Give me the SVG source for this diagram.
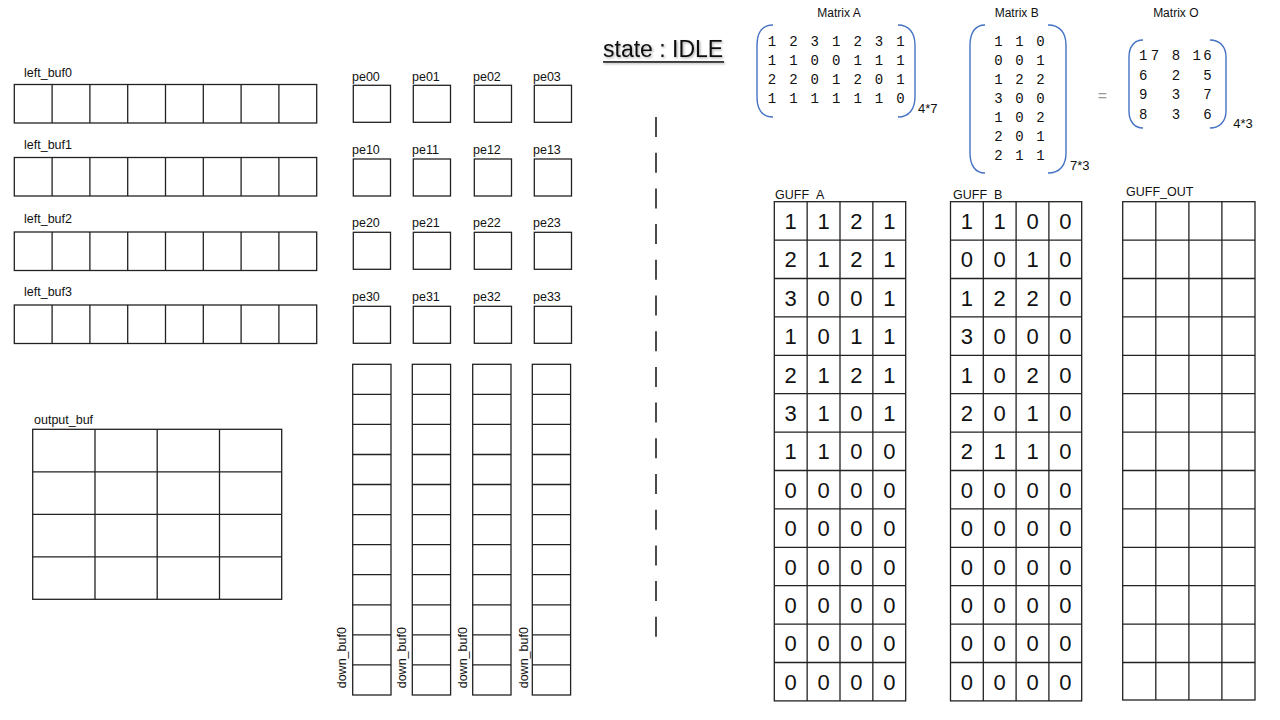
<svg xmlns="http://www.w3.org/2000/svg" width="1280" height="720" viewBox="0 0 1280 720">
<style>
.g{fill:none;stroke:#222;stroke-width:1.3}
.lb{font-family:"Liberation Sans",Arial,sans-serif;font-size:12.5px;fill:#111}
.dg{font-family:"Liberation Sans",Arial,sans-serif;font-size:22px;fill:#111;text-anchor:middle}
.md{font-family:"Liberation Mono","Courier New",monospace;font-size:14px;fill:#111;text-anchor:middle}
.br{fill:none;stroke:#4472C4;stroke-width:1.4}
.ttl{font-family:"Liberation Sans",Arial,sans-serif;font-size:12px;fill:#111;text-anchor:middle}
.dim{font-family:"Liberation Sans",Arial,sans-serif;font-size:13px;fill:#111}
</style>
<defs>
<filter id="sh" filterUnits="userSpaceOnUse" x="590" y="25" width="150" height="50"><feDropShadow dx="1.2" dy="1.2" stdDeviation="0.8" flood-color="#000" flood-opacity="0.35"/></filter>
<path id="lbgrid" d="M52.1 0v38.5M89.9 0v38.5M127.7 0v38.5M165.5 0v38.5M203.3 0v38.5M241.1 0v38.5M278.9 0v38.5"/>
<path id="dbgrid" d="M0 30.1h38.3M0 60.1h38.3M0 90.2h38.3M0 120.2h38.3M0 150.3h38.3M0 180.4h38.3M0 210.4h38.3M0 240.5h38.3M0 270.5h38.3M0 300.6h38.3"/>
</defs>

<!-- left buffers -->
<g id="left_buf0" transform="translate(0,84.5)">
<text class="lb" x="24" y="-7.5">left_buf0</text>
<rect class="g" x="14.3" y="0" width="302.4" height="38.5"/>
<use href="#lbgrid" class="g"/>
</g>
<g id="left_buf1" transform="translate(0,157.5)">
<text class="lb" x="24" y="-8.5">left_buf1</text>
<rect class="g" x="14.3" y="0" width="302.4" height="38.5"/>
<use href="#lbgrid" class="g"/>
</g>
<g id="left_buf2" transform="translate(0,232)">
<text class="lb" x="24" y="-9">left_buf2</text>
<rect class="g" x="14.3" y="0" width="302.4" height="38.5"/>
<use href="#lbgrid" class="g"/>
</g>
<g id="left_buf3" transform="translate(0,305)">
<text class="lb" x="24" y="-9.5">left_buf3</text>
<rect class="g" x="14.3" y="0" width="302.4" height="38.5"/>
<use href="#lbgrid" class="g"/>
</g>

<!-- PE array -->
<g id="pe00"><text class="lb" x="352" y="80.5">pe00</text><rect class="g" x="353.3" y="85.3" width="37.2" height="37"/></g>
<g id="pe01"><text class="lb" x="412" y="80.5">pe01</text><rect class="g" x="413.3" y="85.3" width="37.2" height="37"/></g>
<g id="pe02"><text class="lb" x="473" y="80.5">pe02</text><rect class="g" x="474.3" y="85.3" width="37.2" height="37"/></g>
<g id="pe03"><text class="lb" x="533" y="80.5">pe03</text><rect class="g" x="534.3" y="85.3" width="37.2" height="37"/></g>
<g id="pe10"><text class="lb" x="352" y="154">pe10</text><rect class="g" x="353.3" y="159" width="37.2" height="37"/></g>
<g id="pe11"><text class="lb" x="412" y="154">pe11</text><rect class="g" x="413.3" y="159" width="37.2" height="37"/></g>
<g id="pe12"><text class="lb" x="473" y="154">pe12</text><rect class="g" x="474.3" y="159" width="37.2" height="37"/></g>
<g id="pe13"><text class="lb" x="533" y="154">pe13</text><rect class="g" x="534.3" y="159" width="37.2" height="37"/></g>
<g id="pe20"><text class="lb" x="352" y="227.3">pe20</text><rect class="g" x="353.3" y="232.3" width="37.2" height="37"/></g>
<g id="pe21"><text class="lb" x="412" y="227.3">pe21</text><rect class="g" x="413.3" y="232.3" width="37.2" height="37"/></g>
<g id="pe22"><text class="lb" x="473" y="227.3">pe22</text><rect class="g" x="474.3" y="232.3" width="37.2" height="37"/></g>
<g id="pe23"><text class="lb" x="533" y="227.3">pe23</text><rect class="g" x="534.3" y="232.3" width="37.2" height="37"/></g>
<g id="pe30"><text class="lb" x="352" y="301.3">pe30</text><rect class="g" x="353.3" y="306.3" width="37.2" height="37"/></g>
<g id="pe31"><text class="lb" x="412" y="301.3">pe31</text><rect class="g" x="413.3" y="306.3" width="37.2" height="37"/></g>
<g id="pe32"><text class="lb" x="473" y="301.3">pe32</text><rect class="g" x="474.3" y="306.3" width="37.2" height="37"/></g>
<g id="pe33"><text class="lb" x="533" y="301.3">pe33</text><rect class="g" x="534.3" y="306.3" width="37.2" height="37"/></g>

<!-- down buffers -->
<g id="down_buf0_a" transform="translate(352.7,364.3)">
<rect class="g" x="0" y="0" width="38.3" height="330.7"/>
<use href="#dbgrid" class="g"/>
<text class="lb" transform="translate(-7,324) rotate(-90)">down_buf0</text>
</g>
<g id="down_buf0_b" transform="translate(412.3,364.3)">
<rect class="g" x="0" y="0" width="38.3" height="330.7"/>
<use href="#dbgrid" class="g"/>
<text class="lb" transform="translate(-6,324) rotate(-90)">down_buf0</text>
</g>
<g id="down_buf0_c" transform="translate(472.7,364.3)">
<rect class="g" x="0" y="0" width="38.3" height="330.7"/>
<use href="#dbgrid" class="g"/>
<text class="lb" transform="translate(-5.5,324) rotate(-90)">down_buf0</text>
</g>
<g id="down_buf0_d" transform="translate(532.3,364.3)">
<rect class="g" x="0" y="0" width="38.3" height="330.7"/>
<use href="#dbgrid" class="g"/>
<text class="lb" transform="translate(-4.5,324) rotate(-90)">down_buf0</text>
</g>

<!-- output buffer -->
<g id="output_buf">
<text class="lb" x="34" y="424">output_buf</text>
<rect class="g" x="32.7" y="429.3" width="249" height="170"/>
<path class="g" d="M95 429.3v170M157.2 429.3v170M219.5 429.3v170M32.7 471.8h249M32.7 514.3h249M32.7 556.8h249"/>
</g>

<!-- state label -->
<g id="state" filter="url(#sh)">
<text x="603" y="56.7" style="font-family:'Liberation Sans',Arial,sans-serif;font-size:23px;fill:#111">state : IDLE</text>
<rect x="603" y="61.2" width="121" height="1.5" fill="#111"/>
</g>

<!-- divider -->
<g id="connectors">
<line x1="656" y1="117" x2="656" y2="637" stroke="#111" stroke-width="1.5" stroke-dasharray="20 15.7"/>
</g>

<!-- Matrix A -->
<g id="matrixA">
<text class="ttl" x="839" y="17.3">Matrix A</text>
<path class="br" d="M773 25C762 25 757 33 757 45L757 97C757 109 762 117 773 117"/>
<path class="br" d="M898 25C909 25 915 33 915 45L915 97C915 109 909 117 898 117"/>
<text class="md" x="772 793.4 814.8 836.2 857.6 879 900.4" y="46">1231231</text>
<text class="md" x="772 793.4 814.8 836.2 857.6 879 900.4" y="65">1100111</text>
<text class="md" x="772 793.4 814.8 836.2 857.6 879 900.4" y="83.6">2201201</text>
<text class="md" x="772 793.4 814.8 836.2 857.6 879 900.4" y="102.6">1111110</text>
<text class="dim" x="918" y="113">4*7</text>
</g>

<!-- Matrix B -->
<g id="matrixB">
<text class="ttl" x="1016.7" y="17.3">Matrix B</text>
<path class="br" d="M985 25C975 25 970 33 970 45L970 153C970 165 975 173 985 173"/>
<path class="br" d="M1048 25C1060 25 1066 33 1066 45L1066 153C1066 165 1060 173 1048 173"/>
<text class="md" x="998.5 1019.5 1040.5" y="46">110</text>
<text class="md" x="998.5 1019.5 1040.5" y="65">001</text>
<text class="md" x="998.5 1019.5 1040.5" y="83.6">122</text>
<text class="md" x="998.5 1019.5 1040.5" y="102.6">300</text>
<text class="md" x="998.5 1019.5 1040.5" y="121.6">102</text>
<text class="md" x="998.5 1019.5 1040.5" y="141">201</text>
<text class="md" x="998.5 1019.5 1040.5" y="160.3">211</text>
<text class="dim" x="1070" y="170">7*3</text>
</g>

<text x="1102.5" y="101" style="font-family:'Liberation Sans',Arial,sans-serif;font-size:16px;fill:#9a9a9a;text-anchor:middle">=</text>

<!-- Matrix O -->
<g id="matrixO">
<text class="ttl" x="1175.8" y="17.3">Matrix O</text>
<path class="br" d="M1143 40C1134 40 1129 47 1129 57L1129 111C1129 121 1134 128 1143 128"/>
<path class="br" d="M1210 40C1220 40 1226 47 1226 57L1226 111C1226 121 1220 128 1210 128"/>
<text class="md" x="1143.3 1155 1176 1196.7 1207.5" y="60.3">17816</text>
<text class="md" x="1143.3 1176 1207.5" y="80.3">625</text>
<text class="md" x="1143.3 1176 1207.5" y="99.3">937</text>
<text class="md" x="1143.3 1176 1207.5" y="118.6">836</text>
<text class="dim" x="1233.3" y="128">4*3</text>
</g>

<!-- GUFF_A -->
<g id="guff_a">
<text class="lb" x="775" y="198.5">GUFF_A</text>
<rect class="g" x="774.3" y="201.7" width="131.4" height="499.2"/>
<path class="g" d="M807.15 201.7v499.2M840 201.7v499.2M872.85 201.7v499.2M774.3 240.1h131.4M774.3 278.5h131.4M774.3 316.9h131.4M774.3 355.3h131.4M774.3 393.7h131.4M774.3 432.1h131.4M774.3 470.5h131.4M774.3 508.9h131.4M774.3 547.3h131.4M774.3 585.7h131.4M774.3 624.1h131.4M774.3 662.5h131.4"/>
<g class="dg">
<text x="790.7 823.6 856.4 889.3" y="229">1121</text>
<text x="790.7 823.6 856.4 889.3" y="267.4">2121</text>
<text x="790.7 823.6 856.4 889.3" y="305.8">3001</text>
<text x="790.7 823.6 856.4 889.3" y="344.2">1011</text>
<text x="790.7 823.6 856.4 889.3" y="382.6">2121</text>
<text x="790.7 823.6 856.4 889.3" y="421">3101</text>
<text x="790.7 823.6 856.4 889.3" y="459.4">1100</text>
<text x="790.7 823.6 856.4 889.3" y="497.8">0000</text>
<text x="790.7 823.6 856.4 889.3" y="536.2">0000</text>
<text x="790.7 823.6 856.4 889.3" y="574.6">0000</text>
<text x="790.7 823.6 856.4 889.3" y="613">0000</text>
<text x="790.7 823.6 856.4 889.3" y="651.4">0000</text>
<text x="790.7 823.6 856.4 889.3" y="689.8">0000</text>
</g>
</g>

<!-- GUFF_B -->
<g id="guff_b">
<text class="lb" x="953" y="198.5">GUFF_B</text>
<rect class="g" x="950.5" y="201.7" width="131.2" height="499.2"/>
<path class="g" d="M983.3 201.7v499.2M1016.1 201.7v499.2M1048.9 201.7v499.2M950.5 240.1h131.2M950.5 278.5h131.2M950.5 316.9h131.2M950.5 355.3h131.2M950.5 393.7h131.2M950.5 432.1h131.2M950.5 470.5h131.2M950.5 508.9h131.2M950.5 547.3h131.2M950.5 585.7h131.2M950.5 624.1h131.2M950.5 662.5h131.2"/>
<g class="dg">
<text x="966.9 999.7 1032.5 1065.3" y="229">1100</text>
<text x="966.9 999.7 1032.5 1065.3" y="267.4">0010</text>
<text x="966.9 999.7 1032.5 1065.3" y="305.8">1220</text>
<text x="966.9 999.7 1032.5 1065.3" y="344.2">3000</text>
<text x="966.9 999.7 1032.5 1065.3" y="382.6">1020</text>
<text x="966.9 999.7 1032.5 1065.3" y="421">2010</text>
<text x="966.9 999.7 1032.5 1065.3" y="459.4">2110</text>
<text x="966.9 999.7 1032.5 1065.3" y="497.8">0000</text>
<text x="966.9 999.7 1032.5 1065.3" y="536.2">0000</text>
<text x="966.9 999.7 1032.5 1065.3" y="574.6">0000</text>
<text x="966.9 999.7 1032.5 1065.3" y="613">0000</text>
<text x="966.9 999.7 1032.5 1065.3" y="651.4">0000</text>
<text x="966.9 999.7 1032.5 1065.3" y="689.8">0000</text>
</g>
</g>

<!-- GUFF_OUT -->
<g id="guff_out">
<text class="lb" x="1126" y="196">GUFF_OUT</text>
<rect class="g" x="1122.7" y="201.7" width="132.3" height="498.3"/>
<path class="g" d="M1155.8 201.7v498.3M1188.9 201.7v498.3M1221.9 201.7v498.3M1122.7 240.1h132.3M1122.7 278.5h132.3M1122.7 316.9h132.3M1122.7 355.3h132.3M1122.7 393.7h132.3M1122.7 432.1h132.3M1122.7 470.5h132.3M1122.7 508.9h132.3M1122.7 547.3h132.3M1122.7 585.7h132.3M1122.7 624.1h132.3M1122.7 662.5h132.3"/>
</g>
</svg>
